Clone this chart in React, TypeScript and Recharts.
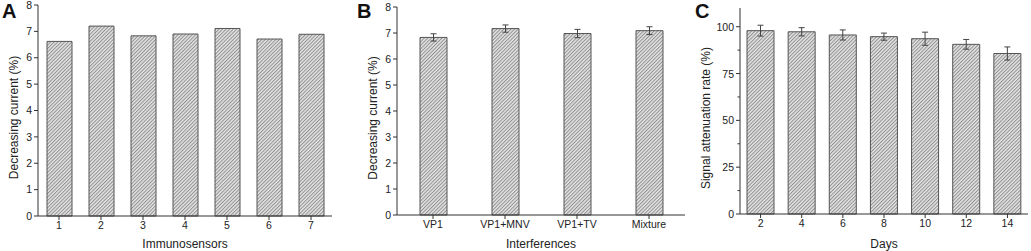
import React from "react";
import { BarChart, Bar, XAxis, YAxis, ErrorBar } from "recharts";

// panel A
const sensors = ["1", "2", "3", "4", "5", "6", "7"];
const sensorCurrent = [6.62, 7.2, 6.83, 6.9, 7.11, 6.71, 6.89];

// panel B
const interferences = ["VP1", "VP1+MNV", "VP1+TV", "Mixture"];
const interfCurrent = [6.83, 7.17, 6.98, 7.09];
const interfErr = [0.14, 0.14, 0.16, 0.15];

// panel C
const days = ["2", "4", "6", "8", "10", "12", "14"];
const signalRate = [97.9, 97.3, 95.6, 94.7, 93.6, 90.6, 85.7];
const signalErr = [2.9, 2.2, 2.7, 1.9, 3.5, 2.6, 3.5];

const ticksA = [0, 1, 2, 3, 4, 5, 6, 7, 8];
const ticksC = [0, 12.5, 25, 37.5, 50, 62.5, 75, 87.5, 100];

const dataA = sensors.map((name, i) => ({ name, value: sensorCurrent[i] }));
const dataB = interferences.map((name, i) => ({
  name,
  value: interfCurrent[i],
  err: interfErr[i],
}));
const dataC = days.map((name, i) => ({
  name,
  value: signalRate[i],
  err: signalErr[i],
}));

const FONT = "'Liberation Sans', Arial, sans-serif";
const AXIS = "#333";
const TEXT = "#222";

function Hatch({ id }: { id: string }) {
  return (
    <defs>
      <pattern
        id={id}
        patternUnits="userSpaceOnUse"
        width={2.5}
        height={2.5}
        patternTransform="rotate(45)"
      >
        <rect width={2.5} height={2.5} fill="#e4e4e4" />
        <rect width={1} height={2.5} fill="#8f8f8f" />
      </pattern>
    </defs>
  );
}

// rotated y title, x is relative to the chart
function YTitle(props: any) {
  const { viewBox, value, tx, shift } = props;
  const cx = tx;
  const cy = viewBox.y + viewBox.height / 2 + shift;
  return (
    <text
      x={cx}
      y={cy}
      transform={`rotate(-90 ${cx} ${cy})`}
      textAnchor="middle"
      dominantBaseline="central"
      fontSize={12}
      fill={TEXT}
      fontFamily={FONT}
    >
      {value}
    </text>
  );
}

// C axis has minor ticks without labels
function MinorTick(props: any) {
  const { x, y, payload } = props;
  const major = payload.value % 25 === 0;
  return (
    <g>
      <line x1={x + 8} x2={x + 8 - (major ? 4 : 2.5)} y1={y} y2={y} stroke={AXIS} />
      {major && (
        <text
          x={x + 2}
          y={y}
          textAnchor="end"
          dominantBaseline="central"
          fontSize={10.5}
          fill={TEXT}
          fontFamily={FONT}
        >
          {payload.value}
        </text>
      )}
    </g>
  );
}

const tickStyle = { fontSize: 10.5, fill: TEXT, fontFamily: FONT };

function Letter({ ch, left }: { ch: string; left: number }) {
  return (
    <div
      style={{
        position: "absolute",
        left,
        top: 0,
        fontFamily: FONT,
        fontWeight: "bold",
        fontSize: 20,
        color: "#111",
      }}
    >
      {ch}
    </div>
  );
}

export default function App() {
  return (
    <div
      style={{
        position: "absolute",
        left: 0,
        top: 0,
        width: 1031,
        height: 251,
        background: "#fff",
      }}
    >
      {/* A */}
      <div style={{ position: "absolute", left: 0, top: 0 }}>
        <BarChart
          width={340}
          height={251}
          data={dataA}
          margin={{ top: 5, right: 8, left: 0, bottom: 0 }}
        >
          <Hatch id="hatchA" />
          <XAxis
            dataKey="name"
            height={35}
            stroke={AXIS}
            tick={tickStyle}
            tickSize={4}
            label={{
              value: "Immunosensors",
              position: "insideBottom",
              offset: 3,
              fontSize: 12,
              fill: TEXT,
              fontFamily: FONT,
            }}
          />
          <XAxis xAxisId="top" dataKey="name" orientation="top" height={0} tick={false} tickLine={false} stroke={AXIS} />
          <YAxis
            width={38}
            domain={[0, 8]}
            ticks={ticksA}
            stroke={AXIS}
            tick={tickStyle}
            tickSize={4}
            label={<YTitle value="Decreasing current (%)" tx={14} shift={7} />}
          />
          <YAxis yAxisId="right" orientation="right" width={0} tick={false} tickLine={false} stroke={AXIS} />
          <Bar
            dataKey="value"
            barSize={25}
            fill="url(#hatchA)"
            stroke="#555"
            strokeWidth={1}
            isAnimationActive={false}
          />
        </BarChart>
      </div>

      {/* B */}
      <div style={{ position: "absolute", left: 345, top: 0 }}>
        <BarChart
          width={345}
          height={251}
          data={dataB}
          margin={{ top: 7, right: 5, left: 0, bottom: 0 }}
        >
          <Hatch id="hatchB" />
          <XAxis
            dataKey="name"
            height={36}
            stroke={AXIS}
            tick={tickStyle}
            tickSize={4}
            label={{
              value: "Interferences",
              position: "insideBottom",
              offset: 3,
              fontSize: 12,
              fill: TEXT,
              fontFamily: FONT,
            }}
          />
          <XAxis xAxisId="top" dataKey="name" orientation="top" height={0} tick={false} tickLine={false} stroke="#888" />
          <YAxis
            width={52}
            domain={[0, 8]}
            ticks={ticksA}
            stroke={AXIS}
            tick={tickStyle}
            tickSize={4}
            label={<YTitle value="Decreasing current (%)" tx={28} shift={7} />}
          />
          <YAxis yAxisId="right" orientation="right" width={0} tick={false} tickLine={false} stroke="#888" />
          <Bar
            dataKey="value"
            barSize={27}
            fill="url(#hatchB)"
            stroke="#555"
            strokeWidth={1}
            isAnimationActive={false}
          >
            <ErrorBar dataKey="err" width={3} stroke="#444" strokeWidth={1} />
          </Bar>
        </BarChart>
      </div>

      {/* C */}
      <div style={{ position: "absolute", left: 690, top: 0 }}>
        <BarChart
          width={341}
          height={251}
          data={dataC}
          margin={{ top: 8, right: 3, left: 0, bottom: 0 }}
        >
          <Hatch id="hatchC" />
          <XAxis
            dataKey="name"
            height={37}
            stroke={AXIS}
            tick={tickStyle}
            tickSize={4}
            label={{
              value: "Days",
              position: "insideBottom",
              offset: 3,
              fontSize: 12,
              fill: TEXT,
              fontFamily: FONT,
            }}
          />
          <XAxis xAxisId="top" dataKey="name" orientation="top" height={0} tick={false} tickLine={false} stroke={AXIS} />
          <YAxis
            width={50}
            domain={[0, 110]}
            ticks={ticksC}
            stroke={AXIS}
            tickLine={false}
            tick={<MinorTick />}
            label={<YTitle value="Signal attenuation rate (%)" tx={16} shift={7} />}
          />
          <YAxis yAxisId="right" orientation="right" width={0} tick={false} tickLine={false} stroke={AXIS} />
          <Bar
            dataKey="value"
            barSize={27}
            fill="url(#hatchC)"
            stroke="#555"
            strokeWidth={1}
            isAnimationActive={false}
          >
            <ErrorBar dataKey="err" width={3} stroke="#444" strokeWidth={1} />
          </Bar>
        </BarChart>
      </div>

      <Letter ch="A" left={2} />
      <Letter ch="B" left={357} />
      <Letter ch="C" left={695} />
    </div>
  );
}
